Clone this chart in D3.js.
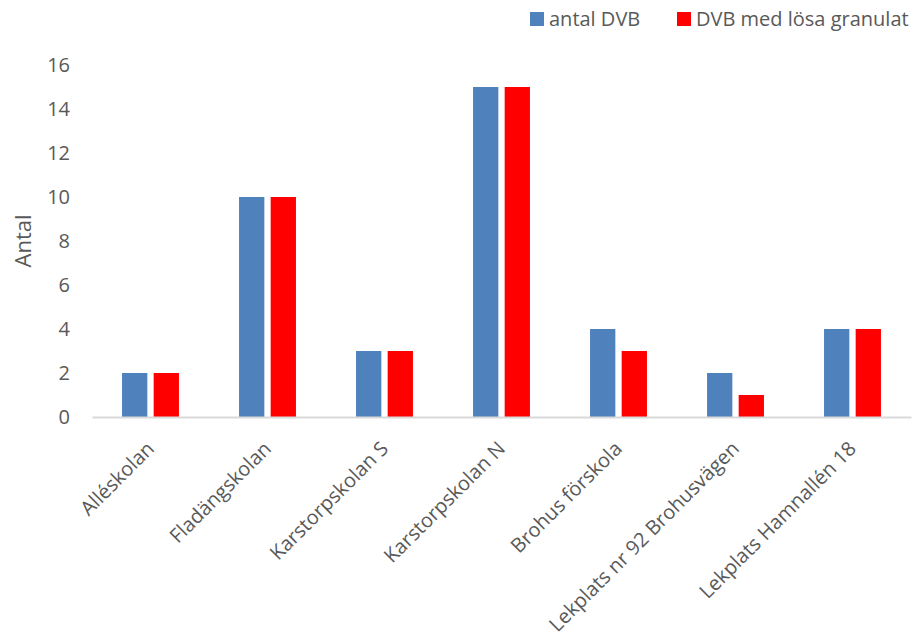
<!DOCTYPE html>
<html><head><meta charset="utf-8">
<script src="https://cdn.jsdelivr.net/npm/d3@7"></script>
<style>body{margin:0;background:#fff}svg{display:block}text{font-family:"Open Sans",sans-serif;fill:#595959}</style>
</head><body>
<script>
const categories = ["Alléskolan","Fladängskolan","Karstorpskolan S","Karstorpskolan N","Brohus förskola","Lekplats nr 92 Brohusvägen","Lekplats Hamnallén 18"];
const seriesNames = ["antal DVB","DVB med lösa granulat"];
const antalDVB = [2,10,3,15,4,2,4];
const granulat = [2,10,3,15,3,1,4];
const yTicks = [0,2,4,6,8,10,12,14,16];
const colors = ["#4F81BD","#FF0000"];

const W=922,H=638;
const m={left:92,right:11,top:65,bottom:221};
const FF='"Open Sans",sans-serif';
const svg=d3.select("body").append("svg").attr("width",W).attr("height",H);
const x=d3.scaleBand().domain(categories).range([m.left,W-m.right]).paddingInner(0).paddingOuter(0);
const x1=d3.scaleBand().domain([0,1]).range([0,x.bandwidth()]).paddingInner(0.2).paddingOuter(0.95);
const y=d3.scaleLinear().domain([0,16]).range([H-m.bottom,m.top]);

// y tick labels
const ya=svg.append("g").attr("transform",`translate(${m.left-22},0)`).call(d3.axisLeft(y).tickValues(yTicks).tickSize(0).tickPadding(0));
ya.select(".domain").remove();
ya.selectAll("text").style("font-size","20px").attr("fill","#595959").style("font-family",FF);

const data=categories.map((c,i)=>({c,v:[antalDVB[i],granulat[i]]}));
const g=svg.append("g");
data.forEach(d=>{
  d.v.forEach((v,j)=>{
    g.append("rect").attr("x",x(d.c)+x1(j)).attr("width",x1.bandwidth())
      .attr("y",y(v)).attr("height",y(0)-y(v)).attr("fill",colors[j]);
  });
});

// x axis
const xa=svg.append("g").attr("transform",`translate(0,${y(0)})`).call(d3.axisBottom(x).tickSize(0).tickPadding(0));
xa.select(".domain").attr("stroke","#D9D9D9").attr("stroke-width",2);
xa.selectAll("text").style("font-size","20px").style("font-family",FF).attr("fill","#595959")
  .attr("text-anchor","end").attr("dy","0.35em")
  .attr("transform","translate(0,28) rotate(-45)");

// y title
svg.append("text").attr("transform",`translate(31,${(y(0)+y(16))/2}) rotate(-90)`)
  .attr("text-anchor","middle").style("font-size","22px").text("Antal");

// legend
const lg=svg.append("g");
const lx=[530,677];
seriesNames.forEach((s,i)=>{
  lg.append("rect").attr("x",lx[i]).attr("y",12).attr("width",14).attr("height",14).attr("fill",colors[i]);
  lg.append("text").attr("x",lx[i]+19).attr("y",26).style("font-size","20px").text(s);
});
</script>
</body></html>
